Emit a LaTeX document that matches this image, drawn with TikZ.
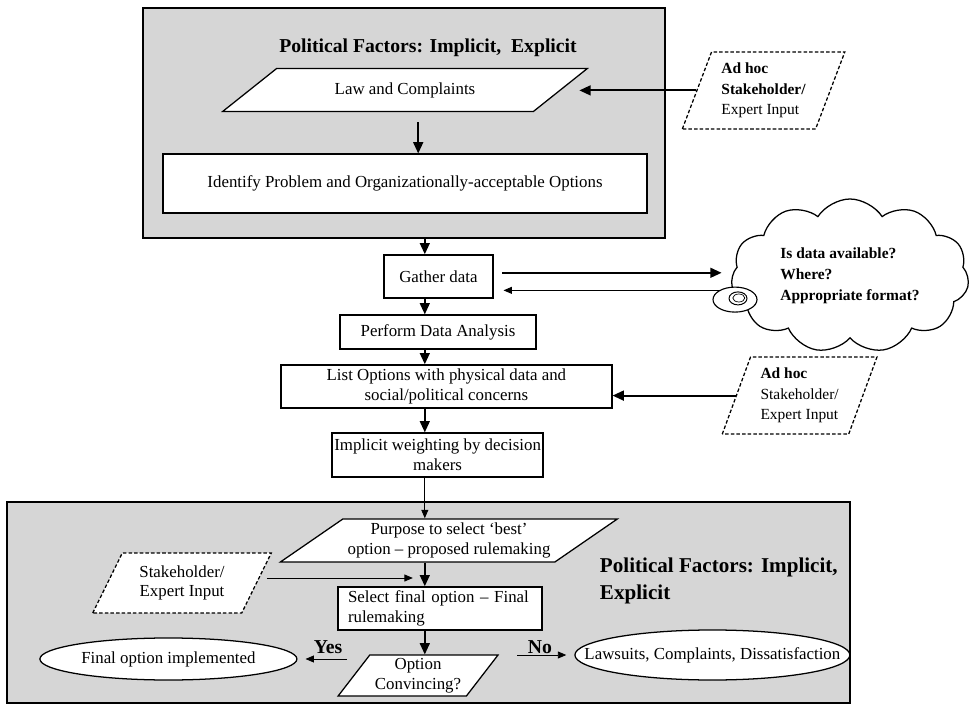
\documentclass[tikz,border=0pt]{standalone}
\usepackage{fontspec}
\setmainfont{Liberation Serif}
\usetikzlibrary{arrows.meta, shapes.geometric, shapes.symbols}

\begin{document}
\begin{tikzpicture}[
  frame/.style={draw, line width=1.2pt, fill=black!16},
  box/.style={draw, line width=0.9pt, fill=white, align=center, inner sep=1pt, font=\fontsize{12}{14}\selectfont},
  para/.style={trapezium, trapezium stretches=true, draw, line width=0.9pt, fill=white, align=center, inner sep=1pt, font=\fontsize{12}{14}\selectfont},
  dpara/.style={para, dash pattern=on 2.5pt off 1.5pt, align=left, font=\fontsize{11}{14.5}\selectfont},
  oval/.style={ellipse, draw, line width=0.9pt, fill=white, inner xsep=-30pt, inner ysep=0pt, font=\fontsize{12}{14}\selectfont},
  arrow/.style={-{Triangle[length=8pt, width=7pt]}, line width=1.3pt},
  tarrow/.style={-{Triangle[length=6pt, width=5pt]}, line width=0.6pt},
  ttl/.style={font=\fontsize{15}{19}\selectfont\bfseries, align=left},
  lab/.style={font=\fontsize{14}{16}\selectfont\bfseries}
]
  \useasboundingbox (0,0) rectangle (24.425,-17.65);
  \coordinate (spine) at (10.62,0);

  % upper political frame
  \node[frame, minimum width=13.05cm, minimum height=5.75cm] (topframe) at (10.1,-3.075) {};
  \node[ttl, font=\fontsize{14}{18}\selectfont\bfseries] (ttl1) at (10.7,-1.2) {Political Factors: Implicit,~ Explicit};
  \node[para, trapezium left angle=31, trapezium right angle=149, minimum width=9.125cm, minimum height=1.075cm] (law) at (10.125,-2.25) {Law and Complaints};
  \node[box, minimum width=12.1cm, minimum height=1.475cm] (idf) at (10.125,-4.59) {Identify Problem and Organizationally-acceptable Options};
  \node[dpara, trapezium left angle=67, trapezium right angle=113, minimum width=4.075cm, minimum height=1.925cm] (adhoc1) at (19.09,-2.26)
    {\textbf{Ad hoc}\\ \textbf{Stakeholder/}\\ Expert Input};
  \draw[arrow, shorten >=0.45cm] (adhoc1.west) -- (adhoc1.west -| law.east);
  \draw[arrow] ([xshift=0.33cm, yshift=-0.25cm]law.south) -- ([xshift=0.33cm]law.south |- idf.north);

  % middle chain
  \node[box, minimum width=2.725cm, minimum height=1.075cm] (gather) at (10.96,-6.91) {Gather data};
  \node[box, minimum width=4.9cm, minimum height=0.85cm] (perform) at (10.95,-8.3) {Perform Data Analysis};
  \node[box, minimum width=8.275cm, minimum height=1.075cm] (list) at (11.16,-9.66)
    {List Options with physical data and\\ social/political concerns};
  \node[box, minimum width=5.275cm, minimum height=1.1cm] (implicit) at (10.94,-11.375)
    {Implicit weighting by decision\\ makers};
  \node[cloud, cloud puffs=11, cloud puff arc=115, aspect=1.7, inner sep=0pt, draw, line width=0.9pt, fill=white, minimum width=5.95cm, minimum height=3.85cm, align=left,
    font=\fontsize{11}{15}\selectfont\bfseries] (cloud) at (21.25,-6.9)
    {Is data available?\\ Where?\\ Appropriate format?};
  \node[ellipse, draw, line width=0.8pt, fill=white, minimum width=1.1cm, minimum height=0.625cm, inner sep=0pt] (bubble) at (18.375,-7.49) {};
  \node[ellipse, draw, line width=0.7pt, minimum width=0.45cm, minimum height=0.325cm, inner sep=0pt] (ring) at (18.45,-7.46) {};
  \node[ellipse, draw, line width=0.5pt, minimum width=0.3cm, minimum height=0.2cm, inner sep=0pt] (ringin) at (18.47,-7.45) {};
  \node[dpara, trapezium left angle=68, trapezium right angle=112, minimum width=3.875cm, minimum height=1.925cm] (adhoc2) at (19.99,-9.89)
    {\textbf{Ad hoc}\\ Stakeholder/\\ Expert Input};

  \draw[arrow] (topframe.south -| spine) -- (gather.north -| spine);
  \draw[arrow, shorten <=0.22cm, shorten >=0.25cm] ([yshift=0.09cm]gather.east) -- ([yshift=0.09cm]gather.east -| cloud.west);
  \draw[tarrow, shorten >=0.25cm] (bubble.north west) -- (bubble.north west -| gather.east);
  \draw[arrow] (gather.south -| spine) -- (perform.north -| spine);
  \draw[arrow] (perform.south -| spine) -- (list.north -| spine);
  \draw[arrow] (adhoc2.west) -- (adhoc2.west -| list.east);
  \draw[arrow] (list.south -| spine) -- (implicit.north -| spine);

  % lower political frame
  \node[frame, minimum width=21.075cm, minimum height=5.025cm] (botframe) at (10.71,-15.06) {};
  \node[ttl, anchor=west] (ttl2) at (14.875,-14.525) {Political Factors: Implicit,\\ Explicit};
  \node[para, trapezium left angle=32, trapezium right angle=148, minimum width=8.45cm, minimum height=1.075cm] (purpose) at (11.225,-13.51)
    {Purpose to select ‘best’\\ option -- proposed rulemaking};
  \node[dpara, trapezium left angle=60, trapezium right angle=120, minimum width=4.5cm, minimum height=1.5cm, align=center, font=\fontsize{12}{14}\selectfont] (stake) at (4.55,-14.575)
    {Stakeholder/\\ Expert Input};
  \node[box, minimum width=5.1cm, minimum height=1.075cm, text width=4.6cm, inner xsep=0.25cm, align=left] (select) at (11.0,-15.21)
    {Select final option -- Final\\ rulemaking};
  \node[para, trapezium left angle=52, trapezium right angle=128, minimum width=4.0cm, minimum height=1.025cm] (opt) at (10.45,-16.89)
    {Option\\ Convincing?};
  \node[oval, minimum width=6.425cm, minimum height=1.05cm] (final) at (4.21,-16.475) {Final option implemented};
  \node[oval, minimum width=6.875cm, minimum height=1.25cm] (laws) at (17.81,-16.375) {Lawsuits, Complaints, Dissatisfaction};
  \node[lab] (yes) at (8.2,-16.175) {Yes};
  \node[lab] (no) at (13.5,-16.175) {No};
  \coordinate (join) at (spine |- 0,-14.45);

  \draw[tarrow] (implicit.south -| spine) -- (purpose.north -| spine);
  \draw[arrow] (purpose.south -| spine) -- (select.north -| spine);
  \draw[tarrow, shorten <=0.24cm, shorten >=0.3cm] (stake.east |- join) -- (join);
  \draw[arrow] (select.south -| spine) -- (opt.north -| spine);
  \draw[tarrow] ([xshift=-0.15cm]opt.west |- final.east) -- ([xshift=0.2cm]final.east);
  \draw[tarrow] ([xshift=0.86cm]opt.east |- laws.west) -- ([xshift=-0.2cm]laws.west);
\end{tikzpicture}
\end{document}
